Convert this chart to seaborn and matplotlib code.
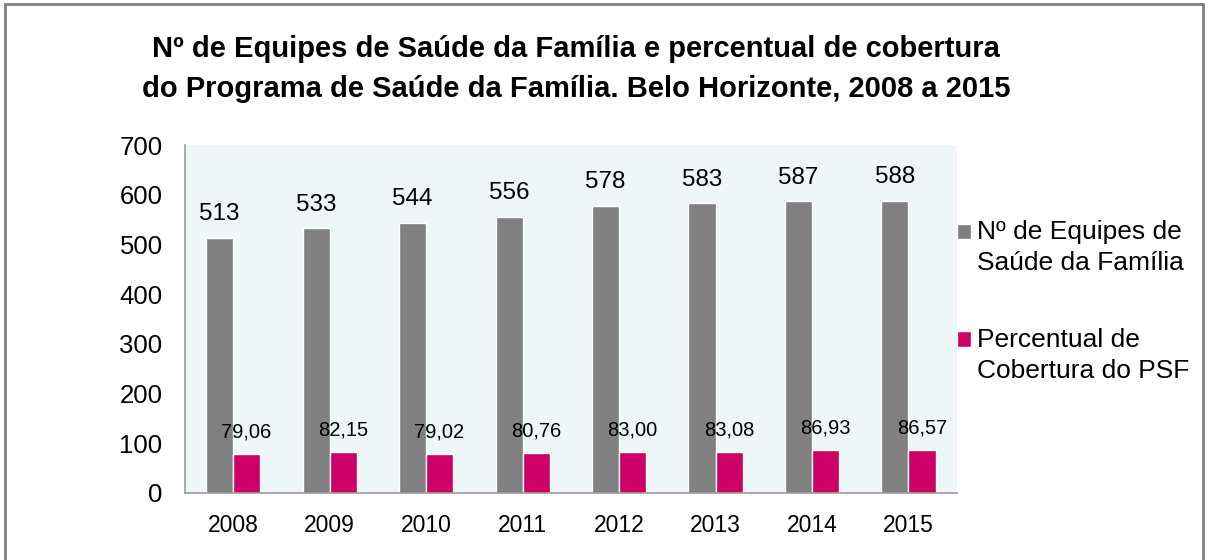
import numpy as np
import pandas as pd
import matplotlib
matplotlib.use("Agg")
import matplotlib.pyplot as plt
import seaborn as sns
from matplotlib.lines import Line2D

sns.set_style("white")
plt.rcParams['font.family'] = ['Liberation Sans', 'DejaVu Sans']
plt.rcParams['text.color'] = 'black'
plt.rcParams['xtick.labelcolor'] = 'black'
plt.rcParams['ytick.labelcolor'] = 'black'

anos = ['2008', '2009', '2010', '2011', '2012', '2013', '2014', '2015']
equipes = [513, 533, 544, 556, 578, 583, 587, 588]
cobertura = [79.06, 82.15, 79.02, 80.76, 83.00, 83.08, 86.93, 86.57]
series = ['Nº de Equipes de\nSaúde da Família', 'Percentual de\nCobertura do PSF']
cores = ['#808080', '#CC0066']

df = pd.DataFrame({
    'ano': anos * 2,
    'valor': equipes + cobertura,
    'serie': [series[0]] * len(anos) + [series[1]] * len(anos),
})

fig = plt.figure(figsize=(12.08, 5.6), dpi=100)
ax = fig.add_axes([0.153, 0.12, 0.639, 0.621])
ax.set_facecolor('#EEF7F7')

sns.barplot(data=df, x='ano', y='valor', hue='serie', palette=cores,
            width=0.56, gap=0, saturation=1, ax=ax, errorbar=None)

ax.bar_label(ax.containers[0], labels=[str(v) for v in equipes],
             padding=9, fontsize=17.5, color='black')
ax.bar_label(ax.containers[1], labels=[f'{v:.2f}'.replace('.', ',') for v in cobertura],
             padding=9, fontsize=14.5, color='black')

ax.set_ylim(0, 700)
ax.set_yticks(range(0, 701, 100))
ax.set_xlim(-0.5, len(anos) - 0.5)
ax.set_xlabel('')
ax.set_ylabel('')
ax.set_xticks(np.arange(-0.5, len(anos)), minor=True)
ax.tick_params(axis='x', which='major', length=0, labelsize=16.5, pad=15)
ax.tick_params(axis='x', which='minor', length=5, color='#999999', direction='out')
ax.tick_params(axis='y', length=5, color='#999999', direction='out', labelsize=18.5, pad=11)
for s in ['top', 'right']:
    ax.spines[s].set_visible(False)
for s in ['left', 'bottom']:
    ax.spines[s].set_color('#999999')
    ax.spines[s].set_linewidth(1.2)

leg = ax.legend(loc='center left', bbox_to_anchor=(1.0, 0.55), frameon=False,
                fontsize=19, handlelength=0.53, handleheight=0.53, handletextpad=0.25,
                labelspacing=2.0, borderaxespad=0, borderpad=0)
for t in leg.get_texts():
    t.set_linespacing(1.35)
# quadradinho alinhado com a primeira linha do rótulo
for p in leg.get_patches():
    p.set_y(p.get_y() + 12)

fig.text(0.477, 0.876, 'Nº de Equipes de Saúde da Família e percentual de cobertura\n'
         'do Programa de Saúde da Família. Belo Horizonte, 2008 a 2015',
         ha='center', va='center', fontsize=21, fontweight='bold', linespacing=1.55)

# moldura cinza
for xs, ys in [([0.004, 0.004], [0, 0.993]), ([0.004, 0.996], [0.993, 0.993]),
               ([0.996, 0.996], [0, 0.993])]:
    fig.add_artist(Line2D(xs, ys, color='#808080', lw=2, transform=fig.transFigure))

fig.savefig('out.png', dpi=100)
